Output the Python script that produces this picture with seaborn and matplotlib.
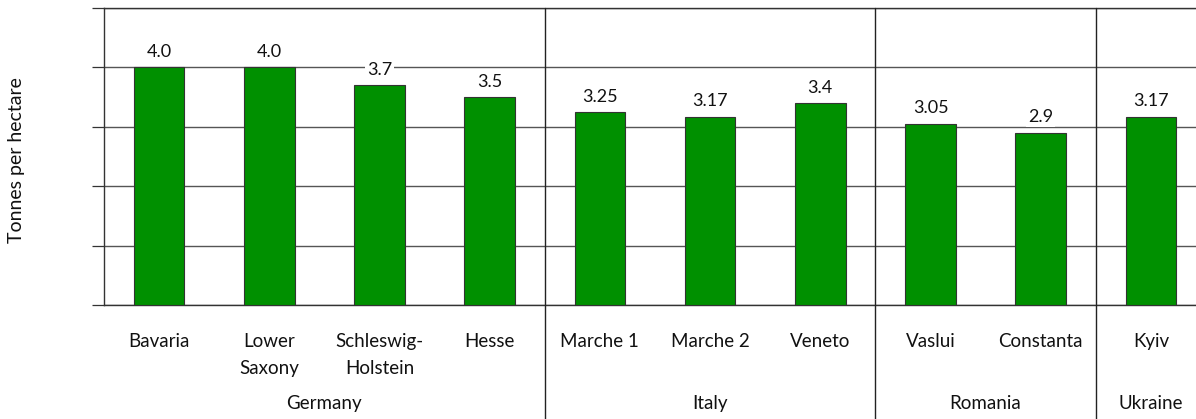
import matplotlib
matplotlib.use("Agg")
import matplotlib.pyplot as plt
import matplotlib.transforms as mtransforms
import seaborn as sns
import pandas as pd

# Wheat yield per region, grouped by country
regions = ["Bavaria", "Lower\nSaxony", "Schleswig-\nHolstein", "Hesse",
           "Marche 1", "Marche 2", "Veneto", "Vaslui", "Constanta", "Kyiv"]
yields = [4.0, 4.0, 3.7, 3.5, 3.25, 3.17, 3.4, 3.05, 2.9, 3.17]
value_labels = ["4.0", "4.0", "3.7", "3.5", "3.25", "3.17", "3.4", "3.05", "2.9", "3.17"]
countries = ["Germany", "Italy", "Romania", "Ukraine"]
country_sizes = [4, 3, 2, 1]

df = pd.DataFrame({"region": regions, "yield": yields})

sns.set_theme(style="white")
plt.rcParams["font.family"] = ["Lato", "DejaVu Sans"]

W, H = 1196, 419
fig = plt.figure(figsize=(W / 100, H / 100), dpi=100)
left, right, top, bottom = 104, 1206, 8, 305
ax = fig.add_axes([left / W, 1 - bottom / H, (right - left) / W, (bottom - top) / H])

sns.barplot(data=df, x="region", y="yield", color="#009000", saturation=1,
            width=0.46, edgecolor="#333333", linewidth=0.8, ax=ax, zorder=3)

ax.set_xlim(-0.5, len(regions) - 0.5)
ax.set_ylim(0, 5)
ax.set_yticks([0, 1, 2, 3, 4, 5])
ax.set_yticklabels([])
ax.tick_params(axis="y", direction="out", length=9, width=0.9, color="#333333", left=True)
ax.tick_params(axis="x", length=0, pad=20, labelsize=13.5, labelcolor="#111111")
for lbl in ax.get_xticklabels():
    lbl.set_linespacing(1.75)
ax.grid(axis="y", color="#555555", linewidth=1, zorder=0)
ax.set_xlabel("")
ax.set_ylabel("")
fig.text(17 / W, 1 - 160 / H, "Tonnes per hectare", rotation=90,
         ha="center", va="center", fontsize=14, color="#111111")

ax.spines["right"].set_visible(False)
for s in ["top", "left", "bottom"]:
    ax.spines[s].set_color("#333333")
    ax.spines[s].set_linewidth(1)

# value labels above the bars, on a white box that breaks the gridlines
for i, (v, lab) in enumerate(zip(yields, value_labels)):
    ax.annotate(lab, (i, v), xytext=(0, 7.5), textcoords="offset points",
                ha="center", va="baseline", fontsize=13, color="#111111",
                bbox=dict(facecolor="white", edgecolor="none", pad=1.5),
                zorder=5)

# country separators and group labels
trans = mtransforms.blended_transform_factory(ax.transData, ax.transAxes)
axes_h = (bottom - top)
pos = -0.5
for name, n in zip(countries, country_sizes):
    centre = pos + n / 2
    ax.text(centre, -(403 - bottom) / axes_h, name, transform=trans,
            ha="center", va="center", fontsize=13.5, color="#111111")
    pos += n
    if pos < len(regions) - 0.5:
        ax.plot([pos, pos], [1, -(H - bottom + 5) / axes_h], transform=trans,
                color="#222222", linewidth=1, clip_on=False, zorder=4)

fig.savefig("out.png", dpi=100)
